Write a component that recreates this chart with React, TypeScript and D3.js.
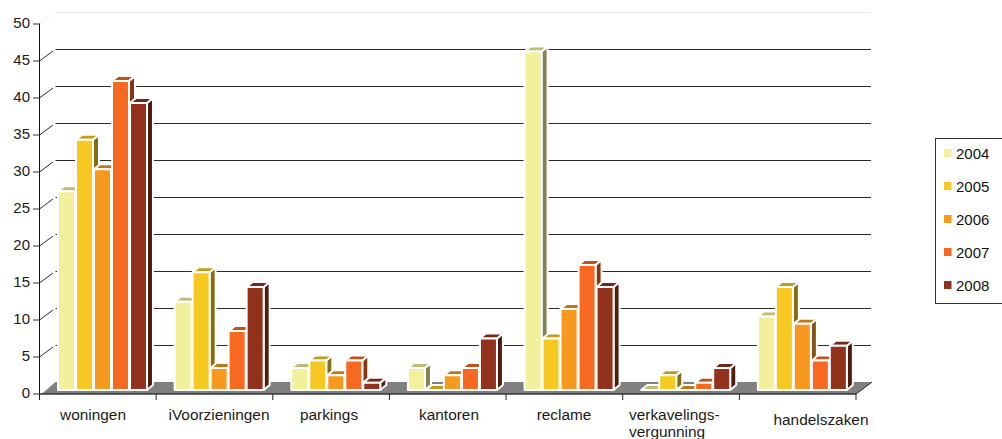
import React from "react";
import * as d3 from "d3";

const categories = ["woningen", "iVoorzieningen", "parkings", "kantoren", "reclame", "verkavelings-|vergunning", "handelszaken"];
const years = ["2004", "2005", "2006", "2007", "2008"];
const colors = ["#f3f09b", "#f7c821", "#f7981f", "#f76820", "#93321c"];
const woningen = [27, 34, 30, 42, 39];
const voorzieningen = [12, 16, 3, 8, 14];
const parkings = [3, 4, 2, 4, 1];
const kantoren = [3, 0, 2, 3, 7];
const reclame = [46, 7, 11, 17, 14];
const verkaveling = [0, 2, 0, 1, 3];
const handelszaken = [10, 14, 9, 4, 6];
const table = [woningen, voorzieningen, parkings, kantoren, reclame, verkaveling, handelszaken];
const yTicks = d3.range(0, 55, 5);

const W = 1002, H = 439;
const left = 39.5, right = 856, base = 394, top = 24;
const wallDx = 16, wallDy = 12;
const barDepthX = 6, barDepthY = 5;

const y = d3.scaleLinear().domain([0, 50]).range([base, top]);
// bars stand a little in front of the wall, on a slightly tighter scale than the axis
const yBar = d3.scaleLinear().domain([0, 50]).range([390, 22]);
const x0 = d3.scaleBand<number>().domain(d3.range(categories.length)).range([left, right]);
const barRange = [18.5, 108.5];
const x1 = d3.scaleBand<number>().domain(d3.range(years.length)).range(barRange);

const labelPos = [
  { x: 93, y: 420, a: "middle" },
  { x: 219, y: 420, a: "middle" },
  { x: 329, y: 420, a: "middle" },
  { x: 449, y: 420, a: "middle" },
  { x: 564, y: 420, a: "middle" },
  { x: 629, y: 420, a: "start" },
  { x: 821, y: 425, a: "middle" },
];

const shade = (c: string, k: number) => {
  const r = d3.rgb(c);
  return d3.rgb(r.r * k, r.g * k, r.b * k).formatHex();
};

const font = "'Liberation Sans', Arial, sans-serif";

export default function App() {
  return (
    <svg width={W} height={H} style={{ position: "absolute", left: 0, top: 0, background: "#fff" }} fontFamily={font}>
      {/* back wall gridlines and their run along the side wall */}
      {yTicks.map((t) => {
        const isTop = t === 50;
        const isZero = t === 0;
        const col = isTop ? "#eeeeee" : "#2a2a2a";
        return (
          <g key={t}>
            {!isZero && <line x1={left} y1={y(t)} x2={left + wallDx - 2.5} y2={y(t) - wallDy + 2} stroke={col} />}
            {!isZero && <line x1={left + wallDx} y1={y(t) - wallDy + 0.5} x2={right + wallDx - 1} y2={y(t) - wallDy + 0.5} stroke={col} />}
          </g>
        );
      })}
      {/* floor */}
      <polygon
        points={[[left + 2, base], [left + wallDx, base - wallDy], [right + wallDx, base - wallDy], [right, base]].join(" ")}
        fill="#808080"
      />
      {/* bars */}
      {table.map((vals, ci) =>
        vals.map((v, si) => {
          const bx = x0(ci)! + x1(si)!;
          const bw = x1.bandwidth() - 1;
          const bBot = yBar(0);
          const bTop = yBar(v);
          const dx = barDepthX, dy = barDepthY;
          return (
            <g key={`${ci}-${si}`} stroke="#fff" strokeWidth={2} strokeLinejoin="round">
              <polygon
                points={[[bx + bw, bTop], [bx + bw + dx, bTop - dy], [bx + bw + dx, bBot - dy], [bx + bw, bBot]].join(" ")}
                fill={shade(colors[si], 0.54)}
              />
              <polygon
                points={[[bx, bTop], [bx + dx, bTop - dy], [bx + bw + dx, bTop - dy], [bx + bw, bTop]].join(" ")}
                fill={shade(colors[si], 0.78)}
              />
              <rect x={bx} y={bTop} width={bw} height={bBot - bTop} fill={colors[si]} />
            </g>
          );
        })
      )}
      {/* axes */}
      <line x1={left} y1={top - 0.5} x2={left} y2={base + 6} stroke="#111" />
      <line x1={left} y1={base} x2={right} y2={base} stroke="#333" strokeWidth={1.4} />
      {yTicks.map((t) => (
        <g key={t}>
          <line x1={33} y1={y(t)} x2={left} y2={y(t)} stroke="#333" />
          <text x={30} y={y(t) + 4} textAnchor="end" fontSize={15} fill="#1a1a1a">{t}</text>
        </g>
      ))}
      {d3.range(categories.length + 1).map((i) => {
        const tx = left + i * x0.step();
        return (
          <g key={i}>
            <line x1={tx} y1={base} x2={tx} y2={base + 6} stroke="#222" />
            {i === categories.length && (
              <line x1={tx} y1={base} x2={tx + wallDx} y2={base - wallDy} stroke="#222" />
            )}
          </g>
        );
      })}
      {categories.map((c, i) => {
        const p = labelPos[i];
        return (
          <text key={c} x={p.x} y={p.y} textAnchor={p.a} fontSize={15.4} fill="#1a1a1a">
            {c.split("|").map((part, j) => (
              <tspan key={j} x={p.x} dy={j === 0 ? 0 : 17}>{part}</tspan>
            ))}
          </text>
        );
      })}
      {/* legend */}
      <rect x={935.5} y={138.5} width={80} height={165} fill="#fff" stroke="#333" />
      {years.map((yr, i) => {
        const cy = 153 + i * 33;
        return (
          <g key={yr}>
            <rect x={944} y={cy - 4} width={7.5} height={8} fill={colors[i]} />
            <text x={956} y={cy + 6} fontSize={15} fill="#111">{yr}</text>
          </g>
        );
      })}
    </svg>
  );
}
